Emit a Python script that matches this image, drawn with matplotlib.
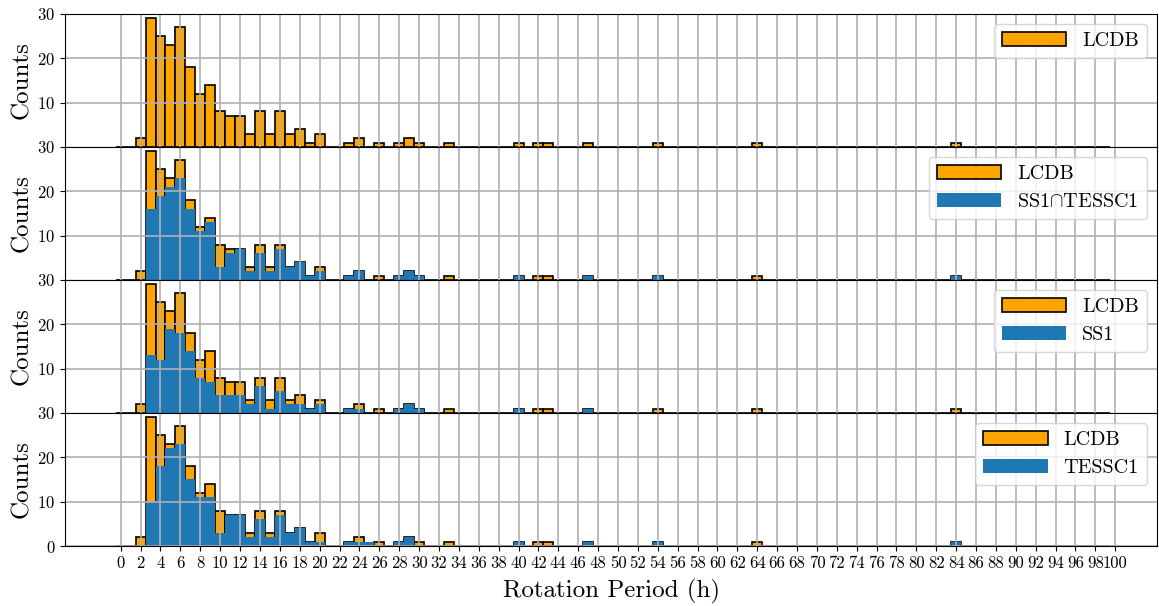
import numpy as np
import matplotlib
matplotlib.use("Agg")
import matplotlib.pyplot as plt

plt.rcParams["font.family"] = ["cmr10", "DejaVu Serif"]
plt.rcParams["mathtext.fontset"] = "cm"
plt.rcParams["axes.formatter.use_mathtext"] = True

# Rotation-period bins (hours, 1 h wide, centred on integers) that hold any objects
periods = [2, 3, 4, 5, 6, 7, 8, 9, 10, 11, 12, 13, 14, 15, 16, 17, 18, 19, 20,
           23, 24, 25, 26, 28, 29, 30, 33, 40, 42, 43, 47, 54, 64, 84]

# Counts per bin for each catalogue
lcdb_counts = [2, 29, 25, 23, 27, 18, 12, 14, 8, 7, 7, 3, 8, 3, 8, 3, 4, 1, 3,
               1, 2, 0, 1, 1, 2, 1, 1, 1, 1, 1, 1, 1, 1, 1]
ss1_tessc1_counts = [0, 16, 19, 21, 23, 16, 11, 13, 3, 6, 7, 2, 6, 2, 7, 3, 4, 1, 2,
                     1, 2, 0, 0, 1, 2, 1, 0, 1, 0, 0, 1, 1, 0, 1]
ss1_counts = [0, 13, 12, 19, 18, 14, 8, 7, 4, 4, 4, 2, 6, 1, 5, 2, 2, 1, 2,
              1, 1, 0, 0, 1, 2, 1, 0, 1, 0, 0, 1, 0, 0, 0]
tessc1_counts = [0, 10, 18, 22, 23, 15, 11, 11, 3, 7, 7, 2, 6, 2, 7, 3, 4, 1, 1,
                 1, 1, 1, 0, 1, 2, 0, 0, 1, 0, 0, 1, 1, 0, 1]

panels = [
    (None, None),
    ("SS1$\\cap$TESSC1", ss1_tessc1_counts),
    ("SS1", ss1_counts),
    ("TESSC1", tessc1_counts),
]

x_ticks = list(range(0, 101, 2))
edges = np.arange(0, 101) - 0.5

fig = plt.figure(figsize=(11.59, 6.06), dpi=100)
gs = fig.add_gridspec(4, 1, hspace=0, left=0.0561, right=0.9983,
                      bottom=0.099, top=0.977)
axes = [fig.add_subplot(gs[i]) for i in range(4)]

for i, (ax, (label, counts)) in enumerate(zip(axes, panels)):
    ax.hist(periods, bins=edges, weights=lcdb_counts, color="orange",
            edgecolor="black", linewidth=1.2, label="LCDB")
    if counts is not None:
        ax.hist(periods, bins=edges, weights=counts, color="#1f77b4",
                label=label)
    ax.set_xlim(-5.6, 104.2)
    ax.set_ylim(0, 30)
    ax.grid(True, color="#b0b0b0", linewidth=1.2)
    ax.set_xticks(x_ticks)
    if i < 3:
        ax.set_yticks([10, 20, 30])
        ax.tick_params(axis="x", labelbottom=False)
    else:
        ax.set_yticks([0, 10, 20, 30])
        ax.set_xticklabels([str(t) for t in x_ticks])
        ax.set_xlabel("Rotation Period (h)", fontsize=18, labelpad=6)
    ax.tick_params(labelsize=12)
    ax.set_ylabel("Counts", fontsize=18)
    ax.yaxis.set_label_coords(-0.029, 0.5)
    ax.legend(loc="upper right", fontsize=14.5, handlelength=3.2)

fig.savefig("out.png", dpi=100)
